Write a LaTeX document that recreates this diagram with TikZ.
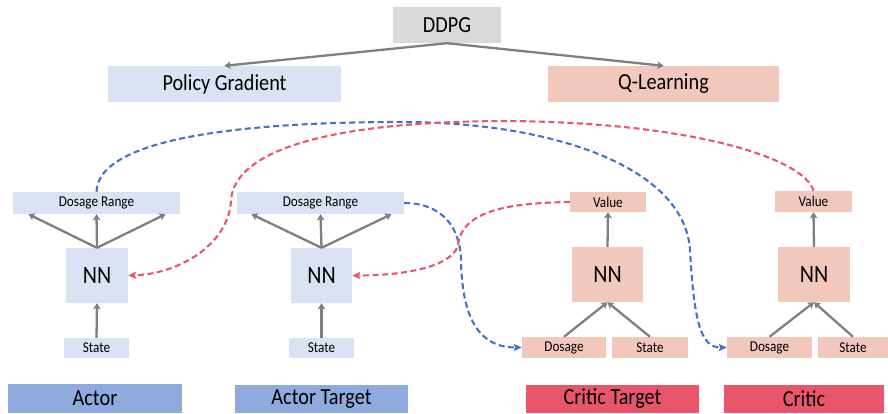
\documentclass[tikz,border=0pt]{standalone}
\usepackage{fontspec}
\setmainfont{Carlito}[FakeStretch=0.88]
\usetikzlibrary{arrows.meta,calc}

\definecolor{boxgray}{HTML}{D9D9D9}
\definecolor{actorfill}{HTML}{DAE3F3}
\definecolor{criticfill}{HTML}{F2C8BC}
\definecolor{actorlab}{HTML}{8FAADC}
\definecolor{criticlab}{HTML}{E9566C}
\definecolor{flowgray}{HTML}{7F7F7F}
\definecolor{dashblue}{HTML}{4472C4}
\definecolor{dashred}{HTML}{E9566C}

\tikzset{
  box/.style={draw=none, inner sep=0pt, align=center, text=black},
  bigtxt/.style={font=\fontsize{23}{27}\selectfont},
  nntxt/.style={font=\fontsize{25}{29}\selectfont},
  smalltxt/.style={font=\fontsize{15}{18}\selectfont},
  flow/.style={draw=flowgray, line width=2.3pt,
    -{Stealth[length=6pt,width=7.5pt,inset=1.2pt]}},
  sync/.style={line width=2.1pt, dash pattern=on 6pt off 3.5pt,
    -{Stealth[length=8pt,width=7pt,inset=1.5pt]}},
}

\begin{document}
\begin{tikzpicture}[x=1pt,y=-1pt]
\useasboundingbox (0,0) rectangle (888,413);

% top level
\node[box,bigtxt,fill=boxgray,minimum width=108pt,minimum height=36pt] (ddpg) at (447,25) {DDPG};
\node[box,bigtxt,fill=actorfill,minimum width=233pt,minimum height=36pt] (pg) at (224.5,84) {Policy Gradient};
\node[box,bigtxt,fill=criticfill,minimum width=231pt,minimum height=36pt] (ql) at (663.5,84) {Q-Learning};
\draw[flow] (ddpg.south) -- (pg.north);
\draw[flow] (ddpg.south) -- (ql.north);

% actor
\node[box,smalltxt,fill=actorfill,minimum width=167pt,minimum height=22pt] (aDR) at (96.5,203) {Dosage Range};
\node[box,nntxt,fill=actorfill,minimum width=62pt,minimum height=55pt] (aNN) at (97,275.5) {NN};
\node[box,smalltxt,fill=actorfill,minimum width=65pt,minimum height=20pt] (aSt) at (96.5,348) {State};
\node[box,bigtxt,fill=actorlab,minimum width=174pt,minimum height=29pt] (aLab) at (95,398.5) {Actor};
\draw[flow] (aSt.north) -- (aNN.south);
\draw[flow] (aNN.north) -- (aDR.south);
\draw[flow] (aNN.north) -- ($(aDR.south)+(-68,0)$);
\draw[flow] (aNN.north) -- ($(aDR.south)+(69,0)$);

% actor target
\node[box,smalltxt,fill=actorfill,minimum width=167pt,minimum height=22pt] (atDR) at (320.5,203) {Dosage Range};
\node[box,nntxt,fill=actorfill,minimum width=61pt,minimum height=55pt] (atNN) at (321.5,275.5) {NN};
\node[box,smalltxt,fill=actorfill,minimum width=65pt,minimum height=20pt] (atSt) at (321.5,348) {State};
\node[box,bigtxt,fill=actorlab,minimum width=173pt,minimum height=28pt] (atLab) at (321.5,399) {Actor Target};
\draw[flow] (atSt.north) -- (atNN.south);
\draw[flow] (atNN.north) -- (atDR.south);
\draw[flow] (atNN.north) -- ($(atDR.south)+(-69,0)$);
\draw[flow] (atNN.north) -- ($(atDR.south)+(71,0)$);

% critic target
\node[box,smalltxt,fill=criticfill,minimum width=76pt,minimum height=20pt] (ctVal) at (608,202) {Value};
\node[box,nntxt,fill=criticfill,minimum width=71pt,minimum height=55pt] (ctNN) at (607.5,274.5) {NN};
\node[box,smalltxt,fill=criticfill,minimum width=84pt,minimum height=21pt] (ctDos) at (564,347.5) {Dosage};
\node[box,smalltxt,fill=criticfill,minimum width=76pt,minimum height=21pt] (ctSt) at (650,347.5) {State};
\node[box,bigtxt,fill=criticlab,minimum width=173pt,minimum height=28pt] (ctLab) at (612.5,399) {Critic Target};
\draw[flow] (ctNN.north) -- (ctVal.south);
\draw[flow] (ctDos.north) -- (ctNN.south);
\draw[flow] (ctSt.north) -- (ctNN.south);

% critic
\node[box,smalltxt,fill=criticfill,minimum width=77pt,minimum height=21pt] (cVal) at (813.5,201.5) {Value};
\node[box,nntxt,fill=criticfill,minimum width=72pt,minimum height=55pt] (cNN) at (814,274.5) {NN};
\node[box,smalltxt,fill=criticfill,minimum width=85pt,minimum height=21pt] (cDos) at (769.5,347.5) {Dosage};
\node[box,smalltxt,fill=criticfill,minimum width=70pt,minimum height=21pt] (cSt) at (853,347.5) {State};
\node[box,bigtxt,fill=criticlab,minimum width=160pt,minimum height=28pt] (cLab) at (804,399) {Critic};
\draw[flow] (cNN.north) -- (cVal.south);
\draw[flow] (cDos.north) -- (cNN.south);
\draw[flow] (cSt.north) -- (cNN.south);

% dashed exchange paths
\draw[sync,draw=dashblue,fill=none] (aDR.north)
  .. controls (98,135) and (260,122) .. (400,122)
  .. controls (560,122) and (685,170) .. (690,250)
  .. controls (694,320) and (700,347.5) .. (cDos.west);
\draw[sync,draw=dashred,fill=none] (cVal.north)
  .. controls (805,160) and (700,123) .. (510,121)
  .. controls (330,121) and (235,150) .. (231,200)
  .. controls (229,245) and (178,274) .. (aNN.east);
\draw[sync,draw=dashblue,fill=none] (atDR.east)
  .. controls (440,203) and (460,225) .. (461,260)
  .. controls (462,320) and (480,347.5) .. (ctDos.west);
\draw[sync,draw=dashred,fill=none] (ctVal.west)
  .. controls (510,203) and (462,210) .. (458,245)
  .. controls (452,268) and (400,275.5) .. (atNN.east);
\end{tikzpicture}
\end{document}
